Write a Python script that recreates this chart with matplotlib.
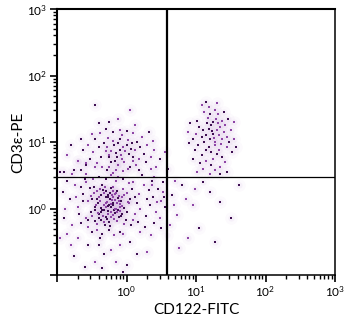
import numpy as np
import matplotlib
matplotlib.use("Agg")
import matplotlib.pyplot as plt
from matplotlib.ticker import LogLocator, NullFormatter, FixedLocator

plt.rcParams['font.family'] = ['Lato', 'DejaVu Sans']
plt.rcParams['mathtext.default'] = 'regular'

# events, log10 units (CD122-FITC, CD3e-PE)
ll_events = [
    (-0.25, 0.05), (-0.17, 0.13), (-0.33, -0.03), (-0.11, 0.19), (-0.41, 0.09), (-0.23, -0.13), (-0.03, 0.01),
    (-0.47, 0.23), (-0.29, 0.27), (-0.13, -0.19), (-0.37, -0.17), (0.01, 0.23), (-0.51, -0.05), (-0.19, 0.33),
    (-0.07, -0.09), (-0.43, -0.23), (-0.27, 0.17), (0.03, 0.09), (-0.53, 0.31), (-0.15, -0.01), (-0.31, -0.25),
    (-0.05, 0.29), (-0.45, 0.03), (-0.21, 0.21), (-0.35, 0.35), (-0.09, 0.07), (-0.01, -0.17), (-0.49, -0.11),
    (-0.25, -0.21), (-0.39, 0.17), (0.05, 0.15), (-0.55, 0.11), (-0.17, -0.07), (-0.29, 0.09), (-0.13, 0.27),
    (-0.41, -0.07), (-0.23, 0.31), (-0.03, -0.23), (-0.47, 0.33), (-0.33, 0.23), (-0.19, 0.05), (-0.07, 0.17),
    (-0.37, 0.01), (-0.27, -0.09), (0.01, -0.05), (-0.51, 0.19), (-0.11, -0.13), (-0.21, 0.13), (-0.45, -0.19),
    (-0.31, 0.33), (-0.22, 0.02), (-0.28, 0.10), (-0.18, -0.03), (-0.32, 0.06), (-0.24, 0.14), (-0.14, 0.08),
    (-0.36, -0.06), (-0.20, -0.10), (-0.30, 0.18), (-0.16, 0.22), (-0.26, -0.04), (-0.38, 0.12), (-0.12, -0.02),
    (-0.34, -0.12), (-0.08, 0.12), (-0.42, 0.26), (-0.24, 0.24), (-0.18, -0.16), (-0.40, -0.14), (-0.10, 0.02),
    (-0.20, 0.08), (-0.30, 0.02), (-0.26, 0.20), (-0.16, 0.00), (-0.36, 0.20), (-0.22, -0.06), (-0.12, 0.16),
    (-0.44, 0.06), (-0.28, -0.16), (-0.06, 0.04), (-0.34, 0.28), (-0.20, 0.26), (-0.46, -0.02), (-0.14, -0.06),
    (-0.24, -0.26), (-0.04, 0.20), (-0.50, 0.14), (-0.32, -0.20), (-0.08, -0.12), (-0.38, 0.30), (-0.27, 0.04),
    (-0.19, 0.18), (-0.35, -0.02), (-0.11, 0.11), (-0.43, 0.15), (-0.23, 0.07), (-0.29, -0.13), (-0.15, 0.24),
    (-0.39, -0.09), (-0.09, -0.04),
    (-0.62, 0.12), (-0.58, -0.15), (0.08, 0.30), (0.12, -0.08), (-0.30, 0.45), (-0.15, 0.42), (-0.25, -0.33),
    (-0.42, -0.32), (-0.65, 0.32), (0.10, 0.40), (0.15, 0.08), (-0.58, 0.40), (-0.10, -0.35), (-0.55, -0.28),
    (0.06, -0.25), (-0.70, 0.02), (-0.05, 0.45), (-0.48, 0.45), (-0.66, -0.22), (0.18, 0.22), (-0.35, -0.38),
    (-0.18, -0.40), (-0.62, 0.22), (0.10, -0.18), (-0.40, 0.48), (-0.72, 0.18), (0.12, 0.18), (-0.22, 0.50),
    (-0.50, -0.35), (0.20, 0.00), (-0.68, -0.08), (0.04, 0.38), (-0.60, 0.45), (-0.05, -0.38), (-0.38, -0.45),
    (-0.74, 0.35), (0.16, -0.20), (-0.12, 0.48), (-0.56, -0.18), (0.02, 0.10),
    (-0.82, 0.15), (-0.78, -0.25), (-0.85, 0.42), (0.25, 0.35), (0.28, -0.12), (-0.25, 0.62), (-0.40, -0.55),
    (-0.10, -0.55), (0.22, 0.50), (-0.88, 0.00), (-0.65, 0.58), (-0.70, -0.45), (0.30, 0.15), (-0.12, 0.65),
    (-0.55, -0.55), (0.20, -0.35), (-0.90, -0.15), (-0.45, 0.62), (0.32, 0.28), (-0.22, -0.62), (-0.92, 0.25),
    (-0.78, 0.52), (0.26, -0.28), (0.02, 0.60), (-0.32, -0.68), (-0.86, -0.38), (0.34, 0.05), (-0.58, 0.68),
    (0.05, -0.50), (-0.80, -0.55),
    (0.38, 0.18), (0.42, -0.05), (0.45, 0.30), (0.50, 0.12), (0.40, -0.22), (0.52, 0.25), (0.36, 0.42),
    (0.48, -0.15), (0.55, 0.02), (0.44, 0.10), (0.53, 0.40), (0.40, 0.48), (0.50, -0.30), (0.37, 0.35),
    (0.54, 0.18), (0.35, -0.40),
    (-0.95, 0.55), (-0.96, -0.45), (-0.75, -0.72), (-0.15, -0.80), (0.00, -0.85), (-0.45, -0.80), (-0.25, 0.78),
    (-0.70, 0.72), (0.15, -0.68), (0.10, 0.72), (-0.05, -0.95), (0.30, -0.65), (-0.60, -0.88), (0.35, 0.60),
]

ul_events = [
    (-0.10, 0.88), (-0.05, 0.92), (-0.15, 0.84), (-0.08, 0.80), (-0.18, 0.95), (-0.02, 0.86), (-0.12, 0.98),
    (-0.22, 0.87), (0.00, 0.95), (-0.06, 0.75), (-0.14, 0.78), (-0.25, 0.80), (0.04, 0.82), (-0.19, 1.02),
    (-0.09, 1.05), (-0.28, 0.93), (0.06, 0.90), (-0.03, 0.70), (-0.16, 0.72), (-0.30, 0.86), (0.08, 0.98),
    (-0.12, 0.66), (-0.23, 0.70), (0.02, 1.03), (-0.33, 0.99), (-0.07, 1.10), (0.10, 0.78), (-0.26, 1.06),
    (-0.37, 0.78), (0.12, 0.88),
    (-0.40, 0.92), (-0.42, 0.68), (0.15, 1.00), (0.18, 0.74), (-0.20, 1.15), (-0.35, 0.62), (0.05, 0.62),
    (-0.48, 0.85), (0.20, 0.92), (-0.10, 1.18), (-0.45, 1.05), (0.14, 0.66), (-0.28, 0.58), (0.22, 1.08),
    (-0.52, 0.75), (-0.15, 0.58), (0.25, 0.82), (-0.38, 1.14), (0.00, 1.16), (-0.55, 0.95), (0.28, 0.70),
    (-0.05, 0.56), (-0.58, 0.65), (0.10, 1.14), (-0.30, 1.20), (0.30, 0.95), (-0.62, 0.88), (-0.20, 0.54),
    (0.18, 0.58), (-0.50, 1.12),
    (-0.70, 0.72), (0.35, 0.78), (-0.65, 1.05), (0.38, 1.02), (-0.40, 1.28), (0.12, 1.25), (-0.75, 0.58),
    (0.42, 0.62), (-0.25, 1.30), (0.40, 0.88), (-0.80, 0.95), (-0.58, 0.52), (0.32, 1.15), (-0.12, 1.35),
    (0.48, 0.75), (-0.85, 0.80),
]

ur_events = [
    (1.25, 1.12), (1.30, 1.18), (1.20, 1.05), (1.28, 1.00), (1.18, 1.20), (1.33, 1.10), (1.22, 1.25),
    (1.35, 1.22), (1.15, 1.10), (1.27, 0.95), (1.24, 1.30), (1.38, 1.05), (1.12, 1.00), (1.31, 1.28),
    (1.19, 0.92), (1.36, 0.97), (1.10, 1.18), (1.29, 1.35), (1.21, 0.85), (1.40, 1.15), (1.16, 1.28),
    (1.26, 1.06), (1.08, 1.07), (1.33, 0.88), (1.23, 1.16), (1.42, 1.25), (1.14, 0.88), (1.37, 1.32),
    (1.30, 0.82), (1.17, 1.36),
    (1.05, 1.22), (1.45, 1.08), (1.03, 0.95), (1.44, 0.92), (1.20, 1.42), (1.32, 1.42), (1.08, 0.80),
    (1.25, 0.75), (1.46, 1.35), (1.00, 1.12), (1.38, 0.78), (1.12, 1.45), (1.48, 1.00), (1.15, 0.72),
    (1.02, 1.32), (1.28, 1.48), (0.98, 0.88), (1.42, 0.70), (1.22, 0.65), (1.50, 1.18), (1.06, 0.68),
    (1.35, 0.62), (0.96, 1.05), (1.18, 1.52), (1.52, 0.85), (1.10, 0.60), (1.40, 1.45), (1.28, 0.58),
    (0.92, 1.28), (1.55, 1.05), (0.95, 0.75), (1.55, 1.30), (1.15, 1.60), (1.30, 1.58), (0.90, 0.98),
    (1.02, 0.55), (1.45, 0.55), (1.20, 0.52), (1.58, 0.92), (0.88, 1.15), (1.35, 0.52), (1.08, 1.55),
]

sparse_events = [
    (0.65, 0.20), (0.72, -0.10), (0.80, 0.35), (0.95, 0.05), (1.05, -0.30), (0.70, 0.42), (1.20, 0.25),
    (0.88, -0.45), (1.35, 0.10), (0.62, -0.25), (1.10, 0.40), (0.75, -0.60), (1.50, -0.15), (0.98, 0.30),
    (1.28, -0.50), (0.68, 0.05), (1.62, 0.35), (0.85, 0.15),
    (-0.45, 1.55), (0.05, 1.48), (0.60, 0.60), (0.55, 0.85), (-0.90, 0.55), (0.58, -0.40), (-0.35, -0.90),
]

gate_x = 3.83
gate_y = 2.98

events = np.array(ll_events + ul_events + ur_events + sparse_events)
xs = 10 ** events[:, 0]
ys = 10 ** events[:, 1]

fig = plt.figure(figsize=(3.5, 3.27), dpi=100)
ax = fig.add_axes([57 / 350, 52 / 327, 278 / 350, 266 / 327])

# soft lavender haze, then the dots
ax.scatter(xs, ys, s=80, color='#dcc2e6', alpha=0.08, linewidths=0, zorder=1)
ax.scatter(xs, ys, s=20, color='#d0a8df', alpha=0.12, linewidths=0, zorder=1)
ax.scatter(xs[::2], ys[::2], s=1.4, marker='s', color='#3e0f52', linewidths=0, zorder=2)
ax.scatter(xs[1::2], ys[1::2], s=1.4, marker='s', color='#8e45a6', linewidths=0, zorder=2)

ax.axvline(gate_x, color='black', lw=1.6, zorder=3)
ax.axhline(gate_y, color='black', lw=0.9, zorder=3)

ax.set_xscale('log')
ax.set_yscale('log')
ax.set_xlim(0.1, 1000)
ax.set_ylim(0.1, 1000)

ax.xaxis.set_major_locator(FixedLocator([0.1, 1, 10, 100, 1000]))
ax.yaxis.set_major_locator(FixedLocator([0.1, 1, 10, 100, 1000]))
ax.xaxis.set_minor_locator(LogLocator(base=10, subs=np.arange(2, 10)))
ax.yaxis.set_minor_locator(LogLocator(base=10, subs=np.arange(2, 10)))
ax.xaxis.set_minor_formatter(NullFormatter())
ax.yaxis.set_minor_formatter(NullFormatter())
ax.set_xticklabels(['', '$10^0$', '$10^1$', '$10^2$', '$10^3$'])
ax.set_yticklabels(['', '$10^0$', '$10^1$', '$10^2$', '$10^3$'])

ax.tick_params(which='major', length=5, width=1.2, labelsize=8.5, pad=2)
ax.tick_params(which='minor', length=3, width=1.0)
ax.tick_params(top=False, right=False)

for side in ['left', 'top']:
    ax.spines[side].set_linewidth(1.5)
for side in ['right', 'bottom']:
    ax.spines[side].set_linewidth(1.1)

ax.set_xlabel('CD122-FITC', fontsize=11, labelpad=3)
ax.set_ylabel('CD3ε-PE', fontsize=11, labelpad=1)

fig.savefig('out.png', dpi=100)
